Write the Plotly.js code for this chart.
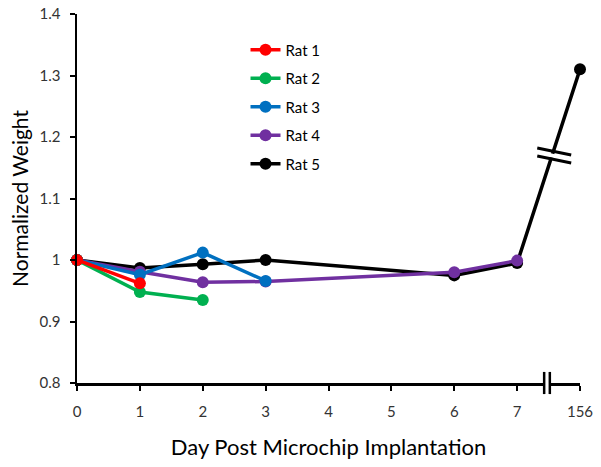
<!DOCTYPE html>
<html>
<head>
<meta charset="utf-8">
<script src="https://cdn.plot.ly/plotly-3.0.1.min.js"></script>
<style>html,body{margin:0;padding:0;background:#fff;}#chart{width:601px;height:467px;}</style>
</head>
<body>
<div id="chart"></div>
<script>
// Category labels on the x axis
var dayLabels = ['0','1','2','3','4','5','6','7','156'];

// Series (x as day labels, y as normalized weight)
var rat1Days = ['0','1'];
var rat1Vals = [1.0, 0.962];
var rat2Days = ['0','1','2'];
var rat2Vals = [1.0, 0.948, 0.935];
var rat3Days = ['0','1','2','3'];
var rat3Vals = [1.0, 0.976, 1.012, 0.966];
var rat4Days = ['0','1','2','3','6','7'];
var rat4Vals = [1.0, 0.981, 0.964, 0.965, 0.980, 0.999];
var rat5Days = ['0','1','2','3','6','7','156'];
var rat5Vals = [1.0, 0.987, 0.993, 1.0, 0.975, 0.995, 1.31];

var seriesNames = ['Rat 1','Rat 2','Rat 3','Rat 4','Rat 5'];
var seriesColors = ['#ff0000','#00b050','#0070c0','#7030a0','#000000'];
var seriesX = [rat1Days, rat2Days, rat3Days, rat4Days, rat5Days];
var seriesY = [rat1Vals, rat2Vals, rat3Vals, rat4Vals, rat5Vals];

var traces = [];
for (var i = seriesNames.length - 1; i >= 0; i--) {
  traces.push({
    x: seriesX[i], y: seriesY[i], name: seriesNames[i],
    type: 'scatter', mode: 'lines+markers',
    line: {color: seriesColors[i], width: 3.5},
    marker: {color: seriesColors[i], size: 12},
    cliponaxis: false,
    legendgroup: 'g' + i,
    legendrank: i + 1
  });
}

var font = 'Lato, "Open Sans", sans-serif';
var shapes = [
  // x-axis break
  {type:'line', xref:'x', yref:'paper', x0:7.475, x1:7.475, y0:-0.03, y1:0.03, line:{color:'#fff', width:5}},
  {type:'line', xref:'x', yref:'paper', x0:7.43, x1:7.43, y0:-0.03, y1:0.03, line:{color:'#000', width:2.5}},
  {type:'line', xref:'x', yref:'paper', x0:7.52, x1:7.52, y0:-0.03, y1:0.03, line:{color:'#000', width:2.5}},
  // data line break on Rat 5
  {type:'line', xref:'x', yref:'y', x0:7.38, x1:7.80, y0:1.1745, y1:1.163, line:{color:'#fff', width:4}},
  {type:'line', xref:'x', yref:'y', x0:7.32, x1:7.86, y0:1.1820, y1:1.1707, line:{color:'#000', width:3}},
  {type:'line', xref:'x', yref:'y', x0:7.32, x1:7.86, y0:1.1690, y1:1.1577, line:{color:'#000', width:3}}
];

var layout = {
  width: 601, height: 467,
  margin: {l: 77, r: 21, t: 14, b: 84},
  paper_bgcolor: '#fff', plot_bgcolor: '#fff',
  font: {family: font, color: '#000'},
  showlegend: true,
  legend: {
    x: 0.335, y: 0.947, xanchor: 'left', yanchor: 'top',
    traceorder: 'grouped', tracegroupgap: 6,
    font: {size: 15, family: font, color: '#000'},
    bgcolor: 'rgba(0,0,0,0)', itemwidth: 30
  },
  xaxis: {
    type: 'category', categoryorder: 'array', categoryarray: dayLabels,
    range: [0, 8], showgrid: false, zeroline: false,
    showline: true, linecolor: '#000', linewidth: 2.5,
    ticks: 'outside', ticklen: 5, tickwidth: 2, tickcolor: '#000',
    ticklabelstandoff: 8,
    tickfont: {size: 15, color: '#333', family: font},
    title: {text: 'Day Post Microchip Implantation', font: {size: 22, family: font, color: '#000'}, standoff: 21}
  },
  yaxis: {
    range: [0.8, 1.4], showgrid: false, zeroline: false,
    showline: true, linecolor: '#000', linewidth: 2.5,
    ticks: 'outside', ticklen: 5, tickwidth: 2, tickcolor: '#000',
    ticklabelstandoff: 6,
    tickfont: {size: 15, color: '#333', family: font},
    tickvals: [0.8, 0.9, 1.0, 1.1, 1.2, 1.3, 1.4],
    ticktext: ['0.8','0.9','1','1.1','1.2','1.3','1.4'],
    title: {text: 'Normalized Weight', font: {size: 21, family: font, color: '#000'}, standoff: 5}
  },
  shapes: shapes
};

Plotly.newPlot('chart', traces, layout, {displayModeBar: false, staticPlot: true});
</script>
</body>
</html>
